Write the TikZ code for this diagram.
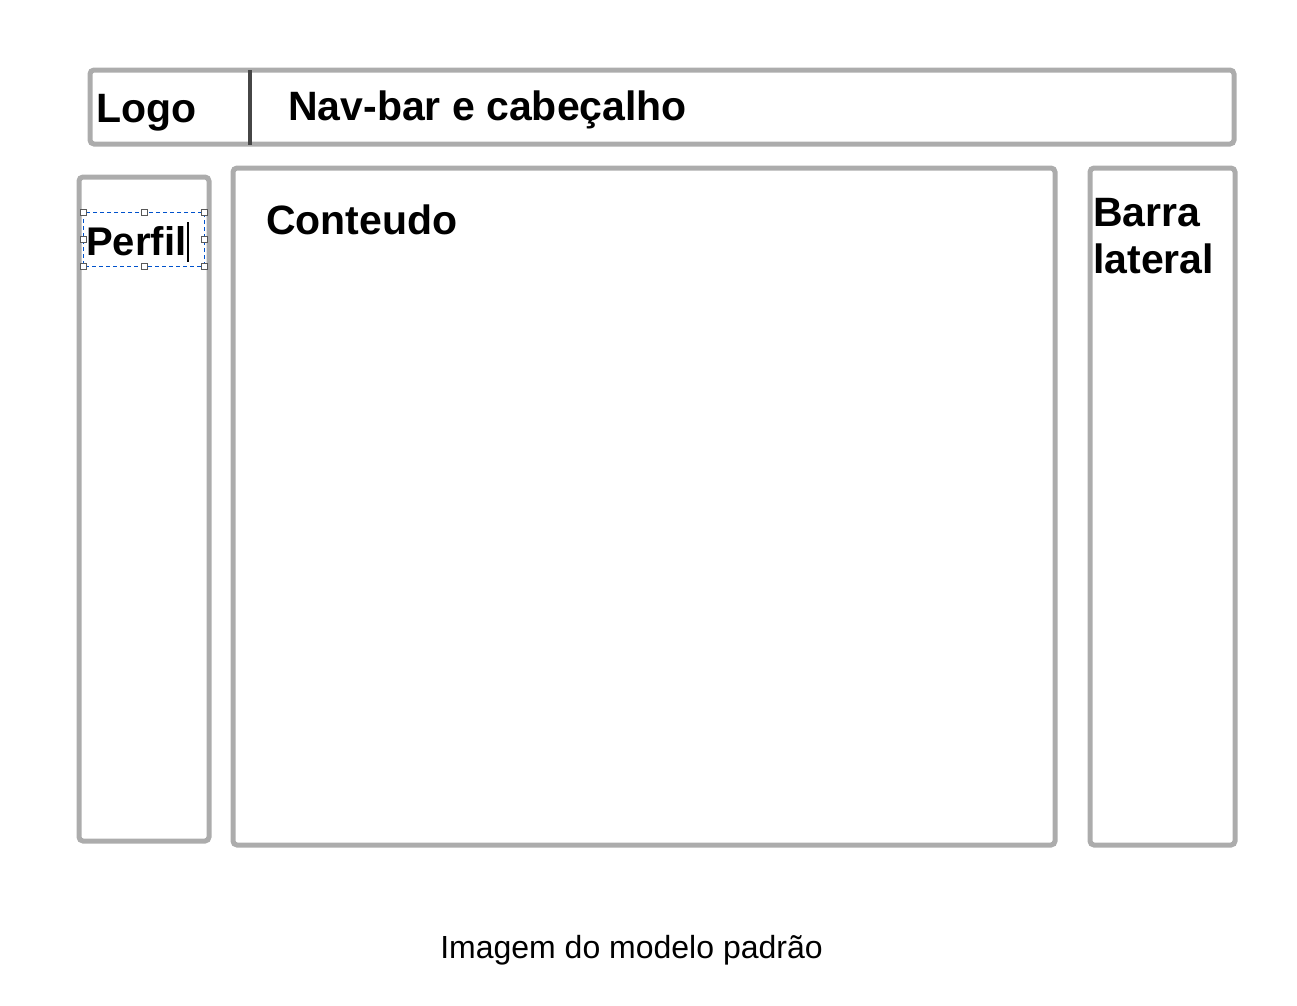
\documentclass[tikz,border=0pt]{standalone}
\usepackage{fontspec}
\setmainfont{Liberation Sans}
\begin{document}
\begin{tikzpicture}[x=1pt,y=-1pt,
  frame/.style={draw=gray!65,line width=5pt,rounded corners=4pt},
  label/.style={font=\fontsize{41}{47}\selectfont\bfseries,inner sep=0pt,anchor=base west,text=black},
  handle/.style={draw=gray!70!black,fill=white,line width=0.8pt,minimum size=6pt,inner sep=0pt},
  sel/.style={draw=blue!60!cyan!80!black,line width=1pt,dash pattern=on 4pt off 3pt}]
\useasboundingbox (0,0) rectangle (1297,1005);
% frames
\draw[frame] (90,70) rectangle (1234,144);
\draw[draw=gray!55!black,line width=3.5pt] (250,70) -- (250,145);
\draw[frame] (79,177) rectangle (209,841);
\draw[frame] (233,168) rectangle (1055,845);
\draw[frame] (1090,168) rectangle (1235,845);
% texts
\node[label] (logo) at (96,122) {Logo};
\node[label] (nav) at (288,120) {Nav-bar e cabeçalho};
\node[label] (cont) at (266,234) {Conteudo};
\node[label] (barra) at (1093,226) {Barra};
\node[label] (lat) at (1093,273) {lateral};
\node[label,font=\fontsize{40}{46}\selectfont\bfseries] (perfil) at (86,255) {Perfil};
% selection box around Perfil
\draw[sel] (83,212) rectangle (204,266);
\draw[black,line width=1.2pt] (188,222) -- (188,262);
\foreach \p/\n in {{83,212}/h1,{144,212}/h2,{204,212}/h3,{83,239}/h4,{204,239}/h5,{83,266}/h6,{144,266}/h7,{204,266}/h8}
  \node[handle] (\n) at (\p) {};
% caption
\node[font=\fontsize{32}{38}\selectfont,inner sep=0pt,anchor=base] (cap) at (631.5,958) {Imagem do modelo padrão};
\end{tikzpicture}
\end{document}
